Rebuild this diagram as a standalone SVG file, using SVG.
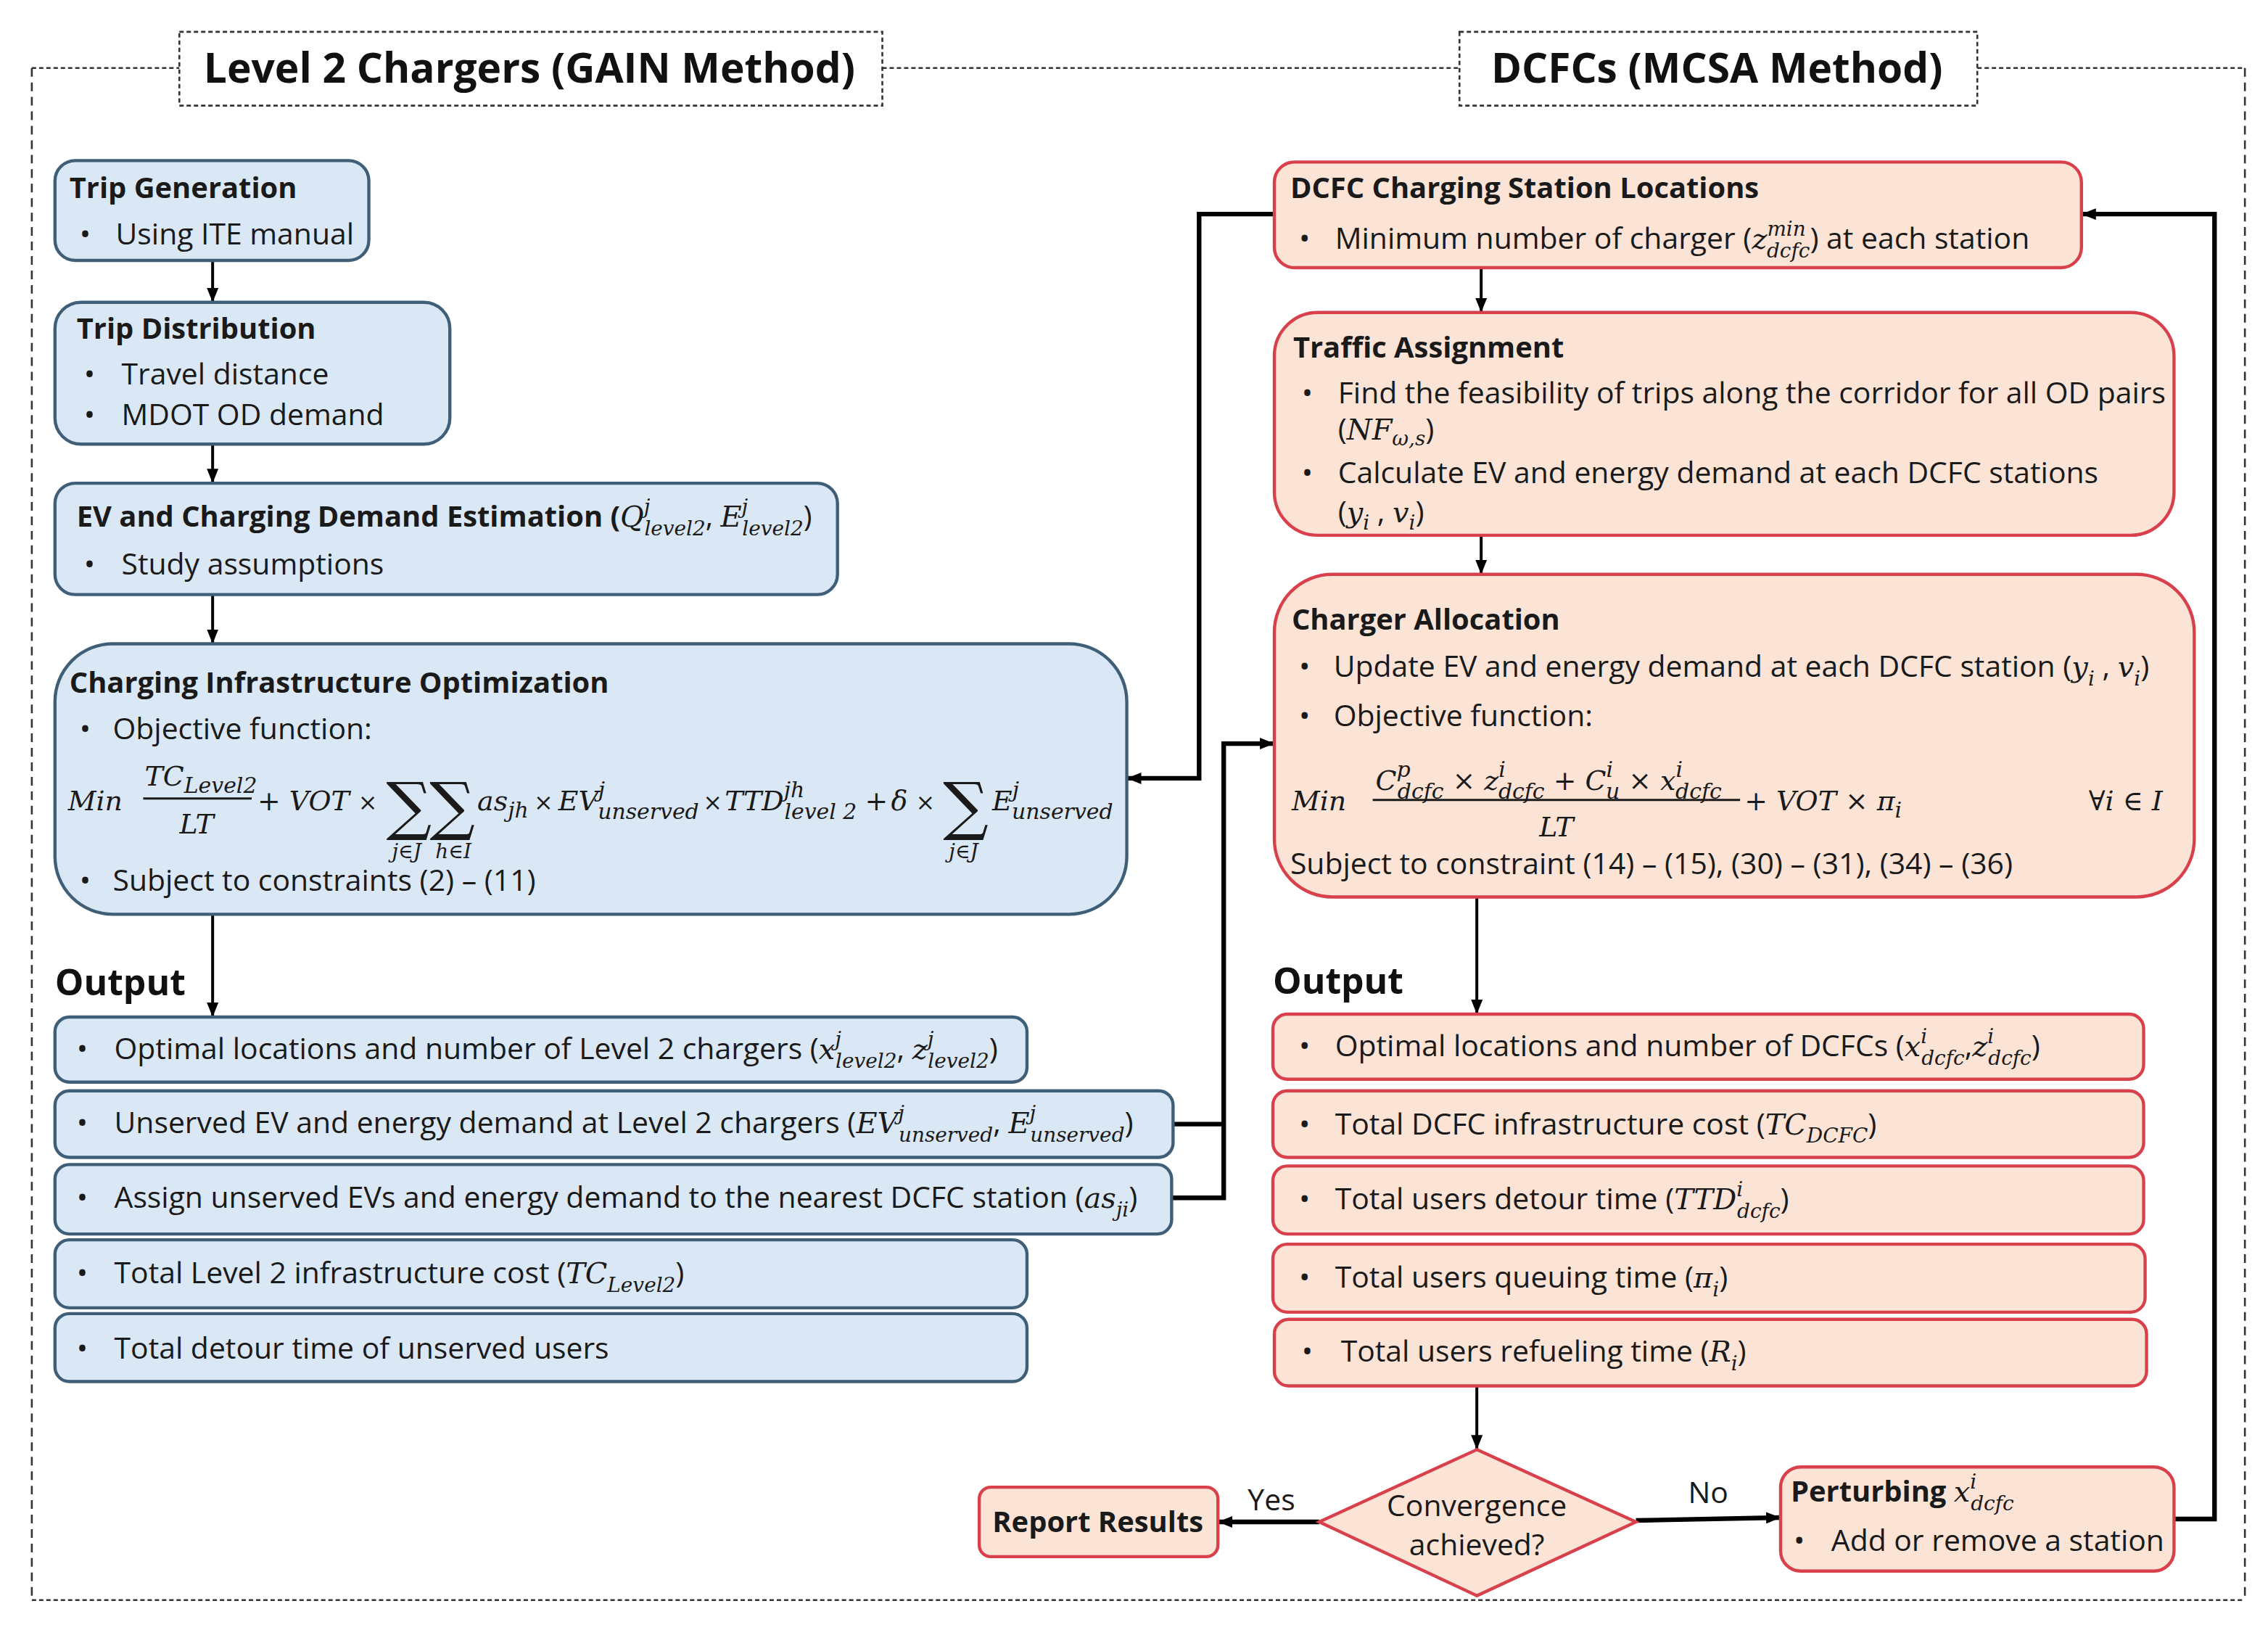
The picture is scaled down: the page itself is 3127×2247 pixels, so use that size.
<svg xmlns="http://www.w3.org/2000/svg" width="3127" height="2247" viewBox="0 0 3127 2247">
<defs>
<style>
.t{font-family:"Open Sans","Liberation Sans",sans-serif;font-size:20.5px;fill:#1a1a1a}
.b{font-weight:700;font-size:20px}
.h{font-family:"Open Sans","Liberation Sans",sans-serif;font-weight:700;font-size:28.5px;fill:#111}
.o{font-family:"Open Sans","Liberation Sans",sans-serif;font-weight:700;font-size:25px;fill:#111}
.m{font-family:"DejaVu Serif","Liberation Serif",serif;font-style:italic;font-size:19px;font-weight:400;fill:#1a1a1a}
.t .m{font-size:20px}
.s{font-size:14px}
.t .s{font-size:14px}
.ms{font-size:15px}
.x{font-size:16px}
.sig{font-family:"DejaVu Serif","Liberation Serif",serif;font-size:44px;fill:#1a1a1a}
.blue{fill:#dae7f4;stroke:#3f5f78;stroke-width:2.2}
.peach{fill:#fbe3d6;stroke:#d8404c;stroke-width:2.2}
.frame{fill:none;stroke:#333;stroke-width:1.3;stroke-dasharray:3 2}
.frv{fill:none;stroke:#333;stroke-width:1.3;stroke-dasharray:6 4}
.c{fill:none;stroke:#000;stroke-width:2}
.ct{fill:none;stroke:#000;stroke-width:3.2}
.ln{stroke:#1a1a1a;stroke-width:1.5}
</style>
<marker id="a" markerUnits="userSpaceOnUse" markerWidth="10" markerHeight="8" refX="10" refY="4" orient="auto"><path d="M0,0 L10,4 L0,8 z" fill="#000"/></marker>
</defs>
<rect width="3127" height="2247" fill="#fff"/>
<g transform="scale(1.9943)">
<g id="frame">
<path class="frame" d="M22,47 H124 M610,47 H1009 M1367,47 H1552 M22,1106 H1552"/>
<path class="frv" d="M22,47 V1106 M1552,47 V1106"/>
</g>
<g id="title-left">
<rect x="124" y="22" width="486" height="51" fill="#fff" class="frame"/>
<text class="h" x="366" y="57" text-anchor="middle">Level 2 Chargers (GAIN Method)</text>
</g>
<g id="title-right">
<rect x="1009" y="22" width="358" height="51" fill="#fff" class="frame"/>
<text class="h" x="1187" y="57" text-anchor="middle">DCFCs (MCSA Method)</text>
</g>

<g id="connectors">
<path class="c" d="M147,180 V209" marker-end="url(#a)"/>
<path class="c" d="M147,307 V334" marker-end="url(#a)"/>
<path class="c" d="M147,411 V445" marker-end="url(#a)"/>
<path class="c" d="M147,632 V703" marker-end="url(#a)"/>
<path class="c" d="M1024,185 V216" marker-end="url(#a)"/>
<path class="c" d="M1024,370 V397" marker-end="url(#a)"/>
<path class="c" d="M1021,620 V701" marker-end="url(#a)"/>
<path class="c" d="M1021,958 V1002" marker-end="url(#a)"/>
<path class="ct" d="M912,1052 H842" marker-end="url(#a)"/>
<path class="ct" d="M1131,1051 L1231,1049" marker-end="url(#a)"/>
<path class="ct" d="M1503,1050 H1531 V148 H1439" marker-end="url(#a)"/>
<path class="ct" d="M881,148 H829 V538 H779" marker-end="url(#a)"/>
<path class="ct" d="M811,777 H846 M810,828 H846 V514 H881" marker-end="url(#a)"/>
<text class="t" x="879" y="1044" text-anchor="middle">Yes</text>
<text class="t" x="1181" y="1039" text-anchor="middle">No</text>
</g>

<g id="trip-generation">
<rect class="blue" x="38" y="111" width="217" height="69" rx="14"/>
<text class="t b" x="48" y="137">Trip Generation</text>
<text class="t" x="55" y="169">•</text><text class="t" x="80" y="169">Using ITE manual</text>
</g>
<g id="trip-distribution">
<rect class="blue" x="38" y="209" width="273" height="98" rx="18"/>
<text class="t b" x="53" y="234">Trip Distribution</text>
<text class="t" x="58" y="266">•</text><text class="t" x="84" y="266">Travel distance</text>
<text class="t" x="58" y="294">•</text><text class="t" x="84" y="294">MDOT OD demand</text>
</g>
<g id="ev-demand">
<rect class="blue" x="38" y="334" width="541" height="77" rx="14"/>
<text class="t b" x="53" y="364">EV and Charging Demand Estimation (<tspan class="m">Q</tspan><tspan class="m s" dy="-9">j</tspan><tspan class="m s" dx="-4" dy="15">level2</tspan><tspan dy="-6" font-weight="400">, </tspan><tspan class="m">E</tspan><tspan class="m s" dy="-9">j</tspan><tspan class="m s" dx="-4" dy="15">level2</tspan><tspan dy="-6" font-weight="400">)</tspan></text>
<text class="t" x="58" y="397">•</text><text class="t" x="84" y="397">Study assumptions</text>
</g>
<g id="charging-infrastructure-optimization">
<rect class="blue" x="38" y="445" width="741" height="187" rx="40"/>
<text class="t b" x="48" y="479">Charging Infrastructure Optimization</text>
<text class="t" x="55" y="511">•</text><text class="t" x="78" y="511">Objective function:</text>
<text class="m" x="47" y="560">Min</text>
<text class="m" x="100" y="543">TC<tspan class="ms" dy="5">Level2</tspan></text>
<line class="ln" x1="99" y1="552" x2="174" y2="552"/>
<text class="m" x="136" y="576" text-anchor="middle">LT</text>
<text class="m" x="178" y="560">+ VOT <tspan class="x">×</tspan></text>
<text class="sig" x="267" y="572">∑</text>
<text class="sig" x="297" y="572">∑</text>
<text class="m s" x="271" y="593">j∈J</text>
<text class="m s" x="301" y="593">h∈I</text>
<text class="m" x="330" y="560">as<tspan class="ms" dy="5">jh</tspan></text>
<text class="m x" x="369" y="560">×</text>
<text class="m" x="386" y="560">EV<tspan class="ms" dy="-9">j</tspan><tspan class="ms" dx="-5" dy="15">unserved</tspan></text>
<text class="m x" x="486" y="560">×</text>
<text class="m" x="501" y="560">TTD<tspan class="ms" dy="-9">jh</tspan><tspan class="ms" dx="-14" dy="15">level 2</tspan></text>
<text class="m" x="598" y="560">+</text>
<text class="m" x="616" y="560">δ</text>
<text class="m x" x="633" y="560">×</text>
<text class="sig" x="652" y="572">∑</text>
<text class="m s" x="656" y="593">j∈J</text>
<text class="m" x="686" y="560">E<tspan class="ms" dy="-9">j</tspan><tspan class="ms" dx="-5" dy="15">unserved</tspan></text>
<text class="t" x="55" y="616">•</text><text class="t" x="78" y="616">Subject to constraints (2) – (11)</text>
</g>
<text class="o" x="38" y="688">Output</text>
<g id="out-l1">
<rect class="blue" x="38" y="703" width="672" height="45" rx="10"/>
<text class="t" x="53" y="732">•</text>
<text class="t" x="79" y="732">Optimal locations and number of Level 2 chargers (<tspan class="m">x</tspan><tspan class="m s" dy="-9">j</tspan><tspan class="m s" dx="-4" dy="15">level2</tspan><tspan dy="-6">, </tspan><tspan class="m">z</tspan><tspan class="m s" dy="-9">j</tspan><tspan class="m s" dx="-4" dy="15">level2</tspan><tspan dy="-6">)</tspan></text>
</g>
<g id="out-l2">
<rect class="blue" x="38" y="754" width="773" height="46" rx="10"/>
<text class="t" x="53" y="783">•</text>
<text class="t" x="79" y="783">Unserved EV and energy demand at Level 2 chargers (<tspan class="m">EV</tspan><tspan class="m s" dy="-9">j</tspan><tspan class="m s" dx="-4" dy="15">unserved</tspan><tspan dy="-6">, </tspan><tspan class="m">E</tspan><tspan class="m s" dy="-9">j</tspan><tspan class="m s" dx="-4" dy="15">unserved</tspan><tspan dy="-6">)</tspan></text>
</g>
<g id="out-l3">
<rect class="blue" x="38" y="805" width="772" height="48" rx="10"/>
<text class="t" x="53" y="835">•</text>
<text class="t" x="79" y="835">Assign unserved EVs and energy demand to the nearest DCFC station (<tspan class="m">as</tspan><tspan class="m s" dy="6">ji</tspan><tspan dy="-6">)</tspan></text>
</g>
<g id="out-l4">
<rect class="blue" x="38" y="857" width="672" height="47" rx="10"/>
<text class="t" x="53" y="887">•</text>
<text class="t" x="79" y="887">Total Level 2 infrastructure cost (<tspan class="m">TC</tspan><tspan class="m s" dy="6">Level2</tspan><tspan dy="-6">)</tspan></text>
</g>
<g id="out-l5">
<rect class="blue" x="38" y="908" width="672" height="47" rx="10"/>
<text class="t" x="53" y="939">•</text>
<text class="t" x="79" y="939">Total detour time of unserved users</text>
</g>

<g id="dcfc-locations">
<rect class="peach" x="881" y="112" width="558" height="73" rx="14"/>
<text class="t b" x="892" y="137">DCFC Charging Station Locations</text>
<text class="t" x="898" y="172">•</text>
<text class="t" x="923" y="172">Minimum number of charger (<tspan class="m">z</tspan><tspan class="m s" dy="-9">min</tspan><tspan class="m s" dx="-27" dy="15">dcfc</tspan><tspan dy="-6">) at each station</tspan></text>
</g>
<g id="traffic-assignment">
<rect class="peach" x="881" y="216" width="622" height="154" rx="30"/>
<text class="t b" x="894" y="247">Traffic Assignment</text>
<text class="t" x="900" y="279">•</text>
<text class="t" x="925" y="279">Find the feasibility of trips along the corridor for all OD pairs</text>
<text class="t" x="925" y="304">(<tspan class="m">NF</tspan><tspan class="m s" dy="4">ω,s</tspan><tspan dy="-4">)</tspan></text>
<text class="t" x="900" y="334">•</text>
<text class="t" x="925" y="334">Calculate EV and energy demand at each DCFC stations</text>
<text class="t" x="925" y="361">(<tspan class="m">y</tspan><tspan class="m s" dy="5">i</tspan><tspan dy="-5"> , </tspan><tspan class="m">v</tspan><tspan class="m s" dy="5">i</tspan><tspan dy="-5">)</tspan></text>
</g>
<g id="charger-allocation">
<rect class="peach" x="881" y="397" width="636" height="223" rx="40"/>
<text class="t b" x="893" y="435">Charger Allocation</text>
<text class="t" x="898" y="468">•</text>
<text class="t" x="922" y="468">Update EV and energy demand at each DCFC station (<tspan class="m">y</tspan><tspan class="m s" dy="6">i</tspan><tspan dy="-6"> , </tspan><tspan class="m">v</tspan><tspan class="m s" dy="6">i</tspan><tspan dy="-6">)</tspan></text>
<text class="t" x="898" y="502">•</text>
<text class="t" x="922" y="502">Objective function:</text>
<text class="m" x="893" y="560">Min</text>
<text class="m" x="951" y="546">C<tspan class="ms" dy="-9">p</tspan><tspan class="ms" dx="-9" dy="15">dcfc</tspan><tspan dy="-6"> × z</tspan><tspan class="ms" dy="-9">i</tspan><tspan class="ms" dx="-5" dy="15">dcfc</tspan><tspan dy="-6"> + C</tspan><tspan class="ms" dy="-9">i</tspan><tspan class="ms" dx="-5" dy="15">u</tspan><tspan dy="-6"> × x</tspan><tspan class="ms" dy="-9">i</tspan><tspan class="ms" dx="-5" dy="15">dcfc</tspan></text>
<line class="ln" x1="949" y1="553" x2="1203" y2="553"/>
<text class="m" x="1076" y="578" text-anchor="middle">LT</text>
<text class="m" x="1206" y="560">+ VOT × π<tspan class="ms" dy="5">i</tspan></text>
<text class="m" x="1444" y="560">∀i ∈ I</text>
<text class="t" x="892" y="604">Subject to constraint (14) – (15), (30) – (31), (34) – (36)</text>
</g>
<text class="o" x="880" y="687">Output</text>
<g id="out-r1">
<rect class="peach" x="880" y="701" width="602" height="45" rx="10"/>
<text class="t" x="898" y="730">•</text>
<text class="t" x="923" y="730">Optimal locations and number of DCFCs (<tspan class="m">x</tspan><tspan class="m s" dy="-9">i</tspan><tspan class="m s" dx="-4" dy="15">dcfc</tspan><tspan dy="-6">,</tspan><tspan class="m">z</tspan><tspan class="m s" dy="-9">i</tspan><tspan class="m s" dx="-4" dy="15">dcfc</tspan><tspan dy="-6">)</tspan></text>
</g>
<g id="out-r2">
<rect class="peach" x="880" y="754" width="602" height="46" rx="10"/>
<text class="t" x="898" y="784">•</text>
<text class="t" x="923" y="784">Total DCFC infrastructure cost (<tspan class="m">TC</tspan><tspan class="m s" dy="6">DCFC</tspan><tspan dy="-6">)</tspan></text>
</g>
<g id="out-r3">
<rect class="peach" x="880" y="806" width="602" height="47" rx="10"/>
<text class="t" x="898" y="836">•</text>
<text class="t" x="923" y="836">Total users detour time (<tspan class="m">TTD</tspan><tspan class="m s" dy="-9">i</tspan><tspan class="m s" dx="-4" dy="15">dcfc</tspan><tspan dy="-6">)</tspan></text>
</g>
<g id="out-r4">
<rect class="peach" x="880" y="860" width="603" height="47" rx="10"/>
<text class="t" x="898" y="890">•</text>
<text class="t" x="923" y="890">Total users queuing time (<tspan class="m">π</tspan><tspan class="m s" dy="6">i</tspan><tspan dy="-6">)</tspan></text>
</g>
<g id="out-r5">
<rect class="peach" x="881" y="912" width="603" height="46" rx="10"/>
<text class="t" x="900" y="941">•</text>
<text class="t" x="927" y="941">Total users refueling time (<tspan class="m">R</tspan><tspan class="m s" dy="6">i</tspan><tspan dy="-6">)</tspan></text>
</g>
<g id="convergence">
<polygon class="peach" points="1021,1002 1131,1052 1021,1103 912,1052"/>
<text class="t" x="1021" y="1048" text-anchor="middle">Convergence</text>
<text class="t" x="1021" y="1075" text-anchor="middle">achieved?</text>
</g>
<g id="report-results">
<rect class="peach" x="677" y="1028" width="165" height="48" rx="8"/>
<text class="t b" x="759" y="1059" text-anchor="middle">Report Results</text>
</g>
<g id="perturbing">
<rect class="peach" x="1231" y="1014" width="272" height="72" rx="14"/>
<text class="t b" x="1238" y="1038">Perturbing <tspan class="m">x</tspan><tspan class="m s" dy="-9">i</tspan><tspan class="m s" dx="-4" dy="15">dcfc</tspan></text>
<text class="t" x="1240" y="1072">•</text>
<text class="t" x="1266" y="1072">Add or remove a station</text>
</g>
</g>
</svg>
